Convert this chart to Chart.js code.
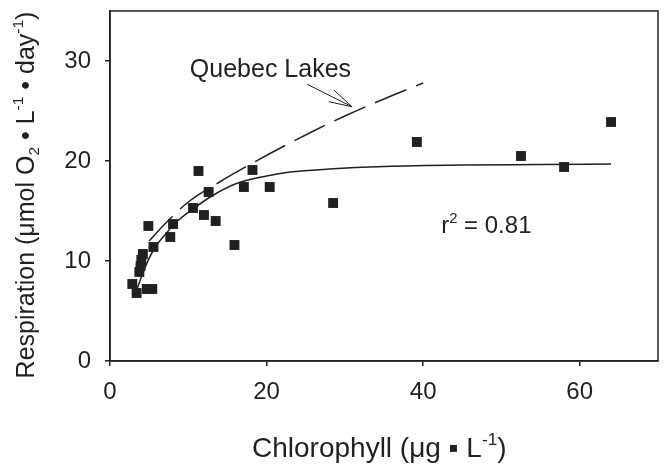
<!DOCTYPE html>
<html>
<head>
<meta charset="utf-8">
<script src="https://cdn.jsdelivr.net/npm/chart.js@4.4.1/dist/chart.umd.min.js"></script>
<style>
  html, body { margin: 0; padding: 0; background: #fff; }
  #wrap { width: 665px; height: 464px; }
</style>
</head>
<body>
<div id="wrap"><canvas id="resp" width="665" height="464"></canvas></div>
<script>
// lake samples
const chlorophyll = [2.85, 3.4, 3.75, 3.9, 4.0, 4.2, 4.7, 5.4, 4.9, 5.55, 7.7, 8.05, 10.6, 11.3, 12.0, 12.6, 13.5, 15.9, 17.1, 18.2, 20.4, 28.5, 39.2, 52.5, 58.0, 64.0];
const respiration = [7.7, 6.8, 8.9, 9.5, 10.1, 10.7, 7.2, 7.2, 13.5, 11.4, 12.4, 13.7, 15.3, 19.0, 14.6, 16.9, 14.0, 11.6, 17.4, 19.1, 17.4, 15.8, 21.9, 20.5, 19.4, 23.9];

// fitted curve through the samples
const fitX = [3.5, 4.5, 5.7, 7, 8.5, 10.6, 13, 16, 20, 23, 28, 35, 45, 55, 64];
const fitY = [7.3, 9.4, 11.3, 12.6, 13.9, 15.2, 16.5, 17.7, 18.5, 18.9, 19.2, 19.45, 19.6, 19.65, 19.7];

// Quebec lakes relationship
const quebecX = [5.0, 7, 10, 14, 18, 22, 26, 30, 35, 40];
const quebecY = [12.0, 13.7, 15.9, 17.9, 19.7, 21.4, 23.0, 24.5, 26.2, 27.8];

// arrow pointing at the Quebec line
const arrowShaft = [[25.2, 27.67], [30.9, 25.43]];
const arrowHead = [[28.6, 27.1], [30.9, 25.43], [27.95, 25.93]];

const xTicks = [0, 20, 40, 60];
const yTicks = [0, 10, 20, 30];

const ink = '#231f20';
const face = '"Liberation Sans", Arial, Helvetica, sans-serif';

const toPts = (xs, ys) => xs.map((x, i) => ({ x: x, y: ys[i] }));
const pairs = arr => arr.map(p => ({ x: p[0], y: p[1] }));

// draws text with superscript / subscript pieces
function drawRich(ctx, parts, x, y, size, align) {
  const fontFor = k => (k ? size * 0.62 : size) + 'px ' + face;
  let total = 0;
  parts.forEach(([t, k]) => { ctx.font = fontFor(k); total += ctx.measureText(t).width; });
  let cx = align === 'center' ? x - total / 2 : x;
  ctx.textAlign = 'left';
  ctx.textBaseline = 'alphabetic';
  parts.forEach(([t, k]) => {
    ctx.font = fontFor(k);
    const dy = k === 'sup' ? -size * 0.42 : k === 'sub' ? size * 0.2 : 0;
    ctx.fillText(t, cx, y + dy);
    cx += ctx.measureText(t).width;
  });
}

const decorations = {
  id: 'decorations',
  afterDraw(chart) {
    const { ctx, chartArea: a, scales: { x, y } } = chart;
    ctx.save();
    ctx.strokeStyle = ink;
    ctx.lineWidth = 1.5;
    ctx.strokeRect(a.left, a.top, a.right - a.left, a.bottom - a.top);

    ctx.fillStyle = ink;
    drawRich(ctx, [['Quebec Lakes', '']], x.getPixelForValue(10.2), y.getPixelForValue(28.4), 25, 'left');
    drawRich(ctx, [['r', ''], ['2', 'sup'], [' = 0.81', '']], x.getPixelForValue(42.3), y.getPixelForValue(12.8), 24, 'left');

    // x axis title
    drawRich(ctx, [['Chlorophyll (μg ▪ L', ''], ['-1', 'sup'], [')', '']], a.left + 142, 457, 28, 'left');

    // y axis title, rotated
    ctx.translate(33.5, 195);
    ctx.rotate(-Math.PI / 2);
    drawRich(ctx, [['Respiration (μmol O', ''], ['2', 'sub'], [' • L', ''], ['-1', 'sup'], [' • day', ''], ['-1', 'sup'], [')', '']], 0, 0, 25, 'center');
    ctx.restore();
  }
};

const tickFont = { family: face, size: 24 };

new Chart(document.getElementById('resp'), {
  type: 'scatter',
  data: {
    datasets: [
      {
        data: toPts(chlorophyll, respiration),
        pointStyle: 'rect',
        pointRadius: 7,
        pointBorderWidth: 0,
        backgroundColor: ink,
        borderColor: ink
      },
      {
        data: toPts(fitX, fitY),
        showLine: true,
        borderColor: ink,
        borderWidth: 1.5,
        pointRadius: 0,
        cubicInterpolationMode: 'monotone'
      },
      {
        data: toPts(quebecX, quebecY),
        showLine: true,
        borderColor: ink,
        borderWidth: 1.5,
        borderDash: [34, 10.5],
        pointRadius: 0,
        cubicInterpolationMode: 'monotone'
      },
      {
        data: pairs(arrowShaft),
        showLine: true,
        borderColor: ink,
        borderWidth: 1,
        pointRadius: 0
      },
      {
        data: pairs(arrowHead),
        showLine: true,
        borderColor: ink,
        borderWidth: 1,
        pointRadius: 0
      }
    ]
  },
  options: {
    responsive: false,
    animation: false,
    layout: { padding: { top: 11, right: 4, left: 0, bottom: 0 } },
    plugins: { legend: { display: false }, tooltip: { enabled: false } },
    scales: {
      x: {
        type: 'linear',
        min: 0,
        max: 70,
        afterBuildTicks: s => { s.ticks = xTicks.map(v => ({ value: v })); },
        afterFit: s => { s.height = 103; s.paddingLeft = 0; s.paddingRight = 0; },
        ticks: { font: tickFont, color: ink, padding: 12, maxRotation: 0 },
        grid: { drawOnChartArea: false, drawTicks: true, tickLength: 5, color: ink, lineWidth: 1.5 },
        border: { display: true, color: ink, width: 1.5 }
      },
      y: {
        type: 'linear',
        min: 0,
        max: 35,
        afterBuildTicks: s => { s.ticks = yTicks.map(v => ({ value: v })); },
        afterFit: s => { s.width = 110; s.paddingTop = 0; s.paddingBottom = 0; },
        ticks: { font: tickFont, color: ink, padding: 14 },
        grid: { drawOnChartArea: false, drawTicks: true, tickLength: 5, color: ink, lineWidth: 1.5 },
        border: { display: true, color: ink, width: 1.5 }
      }
    }
  },
  plugins: [decorations]
});
</script>
</body>
</html>
